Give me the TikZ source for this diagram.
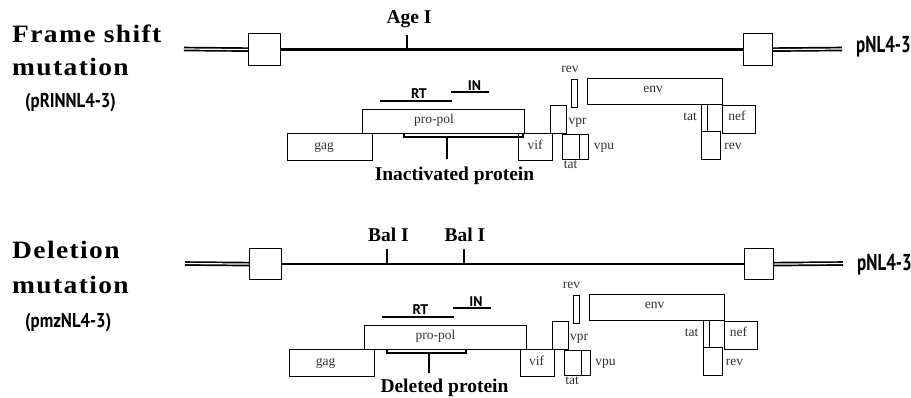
\documentclass[tikz,border=0pt]{standalone}
\usepackage{fontspec}
\setmainfont{Liberation Serif}
\newfontfamily\headfont[LetterSpace=5]{Liberation Serif}
\newfontfamily\condfont{PT Sans}
\tikzset{
  x=1pt, y=-1pt,
  gene/.style={draw, line width=1.1pt, inner sep=0pt, anchor=north west},
  glabel/.style={font=\fontsize{13.5}{14}\selectfont, text=black!80, inner sep=0pt, anchor=mid},
  head/.style={font=\headfont\bfseries\fontsize{25}{26}\selectfont, inner sep=0pt, anchor=base west},
  sub/.style={font=\condfont\bfseries\fontsize{20}{22}\selectfont, inner sep=0pt, anchor=base west},
  plas/.style={font=\condfont\bfseries\fontsize{23}{24}\selectfont, inner sep=0pt, anchor=base west},
  site/.style={font=\bfseries\fontsize{19.5}{21}\selectfont, inner sep=0pt, anchor=base},
  dom/.style={font=\condfont\bfseries\fontsize{14}{15}\selectfont, inner sep=0pt, anchor=base},
  domline/.style={line width=1.5pt},
  mainline/.style={line width=2.4pt},
  dbl/.style={double, double distance=1.2pt, line width=1.7pt},
  endbox/.style={draw, line width=1.2pt, inner sep=0pt, anchor=north west},
  tickline/.style={line width=2.2pt},
  brk/.style={line width=2.5pt},
}
\newcommand\genebox[5]{\node[gene, minimum width={(#4-#2)*1pt}, minimum height={(#5-#3)*1pt}] (#1) at (#2,#3) {};}
\newcommand\genemap{%
  \genebox{gag}{287}{133}{372}{160}
  \genebox{pol}{362}{109}{524}{133}
  \genebox{vif}{518}{133}{552}{160}
  \genebox{vpr}{550}{105}{566}{133}
  \genebox{revA}{571}{79}{577}{107}
  \genebox{tatA}{562}{134}{579}{159}
  \genebox{vpu}{579}{134}{588}{159}
  \genebox{env}{587}{78}{722}{104}
  \genebox{tatB}{701}{104}{707}{131}
  \genebox{nef}{722}{105}{755}{133}
  \genebox{revB}{701}{131}{720}{159}
  \node[glabel] (lgag) at (324,147) {gag};
  \node[glabel] (lpol) at (434,121) {pro-pol};
  \node[glabel] (lvif) at (535,147) {vif};
  \node[glabel] (lvpr) at (577.5,122) {vpr};
  \node[glabel] (lrevA) at (570,70) {rev};
  \node[glabel] (ltatA) at (570.5,166) {tat};
  \node[glabel] (lvpu) at (604,147) {vpu};
  \node[glabel] (lenv) at (653,90) {env};
  \node[glabel] (ltatB) at (690,118) {tat};
  \node[glabel] (lnef) at (737,118) {nef};
  \node[glabel] (lrevB) at (733,147) {rev};
  \coordinate (rtL) at (380,101); \coordinate (rtR) at (452,101);
  \coordinate (inL) at (451,92); \coordinate (inR) at (489,92);
  \draw[domline] (rtL) -- (rtR);
  \draw[domline] (inL) -- (inR);
  \node[dom] (lRT) at (419,98.5) {RT};
  \node[dom] (lIN) at (474.5,90) {IN};
}
\begin{document}
\begin{tikzpicture}
\useasboundingbox[fill=white] (0,0) rectangle (911,397);

% ---------- headings ----------
\node[head] (h1a) at (12,42) {\scalebox{1.1}[1]{Frame shift}};
\node[head] (h1b) at (12,75) {\scalebox{1.1}[1]{mutation}};
\node[sub] (h1c) at (25,107.5) {\scalebox{0.84}[1]{(pRINNL4-3)}};
\node[head] (h2a) at (12,258) {\scalebox{1.1}[1]{Deletion}};
\node[head] (h2b) at (12,293) {\scalebox{1.1}[1]{mutation}};
\node[sub] (h2c) at (25,327) {\scalebox{0.84}[1]{(pmzNL4-3)}};

% ---------- top plasmid ----------
\node[endbox, minimum width=32pt, minimum height=32pt] (lboxA) at (248,33) {};
\node[endbox, minimum width=29pt, minimum height=32pt] (rboxA) at (743,33) {};
\coordinate (dlA) at (184,49); \coordinate (drA) at (842,49);
\draw[dbl] (dlA) -- (lboxA.west);
\draw[dbl] (rboxA.east) -- (drA);
\draw[mainline] (lboxA.east) -- (rboxA.west);
\node[plas] (pA) at (856,52.5) {\scalebox{0.74}[1]{pNL4-3}};
\coordinate (ageT) at (407,35); \coordinate (ageB) at (407,49);
\draw[tickline] (ageT) -- (ageB);
\node[site] (age) at (409,23) {Age I};

\begin{scope}[name prefix=t-]
  \genemap
\end{scope}
\coordinate (iaL) at (404,133); \coordinate (iaR) at (523,133);
\draw[brk] (iaL) -- ++(0,4) -| (iaR);
\coordinate (iaS) at (447,137); \coordinate (iaE) at (447,159);
\draw[tickline] (iaS) -- (iaE);
\node[site] (inact) at (454.5,180) {Inactivated protein};

% ---------- bottom plasmid ----------
\node[endbox, minimum width=32pt, minimum height=31pt] (lboxB) at (249,248) {};
\node[endbox, minimum width=29pt, minimum height=31pt] (rboxB) at (744,248) {};
\coordinate (dlB) at (185,263.5); \coordinate (drB) at (843,263.5);
\draw[dbl] (dlB) -- (lboxB.west);
\draw[dbl] (rboxB.east) -- (drB);
\draw[mainline] (lboxB.east) -- (rboxB.west);
\node[plas] (pB) at (857,270) {\scalebox{0.74}[1]{pNL4-3}};
\coordinate (b1T) at (387,249); \coordinate (b1B) at (387,263.5);
\coordinate (b2T) at (464,249); \coordinate (b2B) at (464,263.5);
\draw[tickline] (b1T) -- (b1B);
\draw[tickline] (b2T) -- (b2B);
\node[site] (bal1) at (388.5,241) {Bal I};
\node[site] (bal2) at (465,241) {Bal I};

\begin{scope}[shift={(1.5,216)}, name prefix=b-]
  \genemap
\end{scope}
\coordinate (dlL) at (387,349); \coordinate (dlR) at (466,349);
\draw[brk] (dlL) -- ++(0,4) -| (dlR);
\coordinate (dlS) at (429,353); \coordinate (dlE) at (429,373);
\draw[tickline] (dlS) -- (dlE);
\node[site] (deleted) at (444.5,392) {Deleted protein};
\end{tikzpicture}
\end{document}
